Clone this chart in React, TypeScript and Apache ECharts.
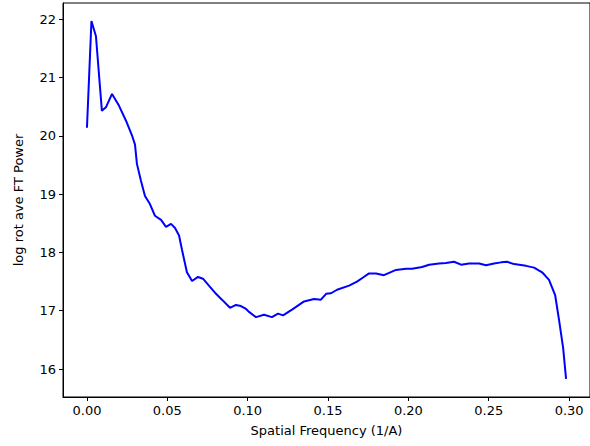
import React, { useEffect, useRef } from "react";
import * as echarts from "echarts";

const freq = [
  0.0, 0.0028, 0.0056, 0.0093, 0.0118, 0.0156, 0.0199, 0.0243, 0.028, 0.0299,
  0.0311, 0.0336, 0.0361, 0.0392, 0.0423, 0.0461, 0.0492, 0.0523, 0.0548, 0.0573,
  0.0591, 0.0622, 0.0654, 0.0691, 0.0722, 0.0759, 0.0803, 0.084, 0.089, 0.0927,
  0.0958, 0.099, 0.1008, 0.1052, 0.1102, 0.1151, 0.1189, 0.122, 0.1276, 0.1351,
  0.1413, 0.1456, 0.1488, 0.1519, 0.1556, 0.1631, 0.168, 0.1718, 0.1755, 0.1799,
  0.1848, 0.188, 0.1923, 0.1985, 0.2023, 0.2085, 0.2129, 0.2191, 0.2234, 0.2284,
  0.2328, 0.2378, 0.244, 0.2483, 0.2533, 0.2577, 0.2614, 0.2658, 0.2732, 0.2782,
  0.2832, 0.2875, 0.2913, 0.2938, 0.2963, 0.2981,
];

const power = [
  20.14, 21.97, 21.71, 20.43, 20.49, 20.72, 20.52, 20.26, 20.01, 19.85,
  19.52, 19.23, 18.97, 18.83, 18.63, 18.56, 18.44, 18.49, 18.42, 18.29,
  18.05, 17.66, 17.51, 17.58, 17.55, 17.43, 17.29, 17.19, 17.05, 17.1,
  17.08, 17.03, 16.98, 16.89, 16.93, 16.89, 16.95, 16.92, 17.02, 17.16,
  17.2, 17.19, 17.29, 17.3, 17.36, 17.43, 17.5, 17.57, 17.64, 17.64,
  17.61, 17.65, 17.7, 17.72, 17.72, 17.75, 17.79, 17.81, 17.82, 17.84,
  17.79, 17.81, 17.81, 17.78, 17.81, 17.83, 17.84, 17.8, 17.77, 17.74,
  17.66, 17.53, 17.27, 16.83, 16.36, 15.83,
];

const xTicks = [0, 0.05, 0.1, 0.15, 0.2, 0.25, 0.3];
const yTicks = [16, 17, 18, 19, 20, 21, 22];

export default function App() {
  const ref = useRef<HTMLDivElement>(null);
  useEffect(() => {
    if (!ref.current) return;
    const chart = echarts.init(ref.current, null, { renderer: "svg" });
    const font = "DejaVu Sans";
    chart.setOption({
      animation: false,
      backgroundColor: "#fff",
      textStyle: { fontFamily: font },
      grid: {
        left: 63,
        top: 3,
        width: 528,
        height: 394,
        show: true,
        borderColor: "#000",
        borderWidth: 1,
      },
      xAxis: {
        type: "value",
        min: -0.0149,
        max: 0.313,
        name: "Spatial Frequency (1/A)",
        nameLocation: "middle",
        nameGap: 27,
        nameTextStyle: { fontSize: 13, color: "#000", fontFamily: font },
        axisLine: { show: true, onZero: false, lineStyle: { color: "#000", width: 1 } },
        axisTick: {
          show: true,
          length: 4,
          customValues: xTicks,
          lineStyle: { color: "#000" },
        },
        axisLabel: {
          customValues: xTicks,
          formatter: (v: number) => v.toFixed(2),
          fontSize: 13,
          color: "#000",
          margin: 7,
          fontFamily: font,
        },
        splitLine: { show: false },
      },
      yAxis: {
        type: "value",
        min: 15.52,
        max: 22.28,
        name: "log rot ave FT Power",
        nameLocation: "middle",
        nameGap: 38,
        nameTextStyle: { fontSize: 13, color: "#000", fontFamily: font },
        axisLine: { show: true, onZero: false, lineStyle: { color: "#000", width: 1 } },
        axisTick: {
          show: true,
          length: 4,
          customValues: yTicks,
          lineStyle: { color: "#000" },
        },
        axisLabel: {
          customValues: yTicks,
          formatter: (v: number) => String(Math.round(v)),
          fontSize: 13,
          color: "#000",
          margin: 7,
          fontFamily: font,
        },
        splitLine: { show: false },
      },
      series: [
        {
          type: "line",
          data: freq.map((f, i) => [f, power[i]]),
          showSymbol: false,
          symbol: "none",
          lineStyle: { color: "#0000ff", width: 2 },
        },
      ],
    });
    return () => chart.dispose();
  }, []);
  return <div ref={ref} style={{ width: 590, height: 446, position: "absolute", left: 0, top: 0 }} />;
}
